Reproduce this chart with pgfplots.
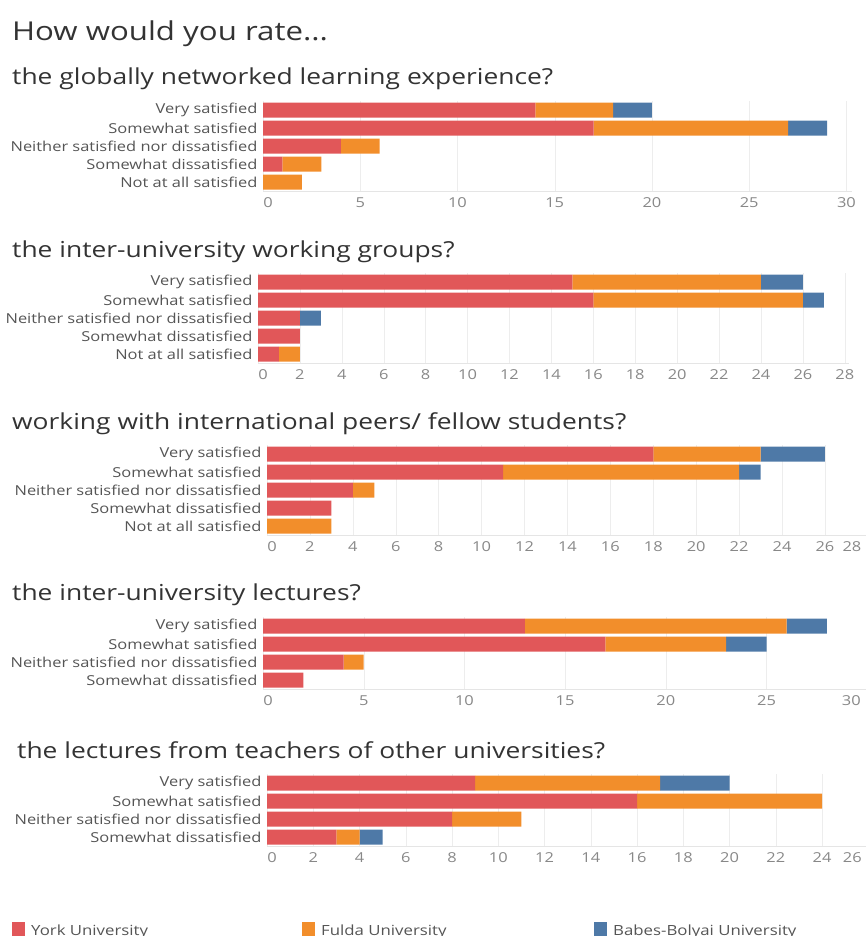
\documentclass[border=0pt]{standalone}
\usepackage{pgfplots}
\pgfplotsset{compat=1.18}
\usepackage{pgfplotstable}
\usepackage{fontspec}
\setmainfont[FakeStretch=1.2]{Open Sans}
\definecolor{york}{HTML}{E15759}
\definecolor{fulda}{HTML}{F28E2B}
\definecolor{bb}{HTML}{4E79A7}
\definecolor{titlec}{HTML}{333333}
\definecolor{labc}{HTML}{555555}
\definecolor{tickc}{HTML}{888888}

\pgfplotstableread{
y york fulda bb
0 14 4 2
1 17 10 2
2 4 2 0
3 1 2 0
4 0 2 0
}\tableA
\pgfplotstableread{
y york fulda bb
0 15 9 2
1 16 10 1
2 2 0 1
3 2 0 0
4 1 1 0
}\tableB
\pgfplotstableread{
y york fulda bb
0 18 5 3
1 11 11 1
2 4 1 0
3 3 0 0
4 0 3 0
}\tableC
\pgfplotstableread{
y york fulda bb
0 13 13 2
1 17 6 2
2 4 1 0
3 2 0 0
}\tableD
\pgfplotstableread{
y york fulda bb
0 9 8 3
1 16 8 0
2 8 3 0
3 3 1 1
}\tableE

\pgfplotsset{
  rate/.style={
    scale only axis,
    anchor=south west,
    xbar stacked,
    bar width=15pt,
    y dir=reverse,
    xmin=0,
    ymin=-0.5,
    axis x line*=bottom,
    axis y line*=left,
    x axis line style={draw=black!10},
    y axis line style={draw=none},
    major tick length=0pt,
    tick style={draw=none},
    xmajorgrids,
    grid style={draw=black!7},
    /pgf/number format/assume math mode=true,
    tick label style={font=\fontsize{13.7}{16}\selectfont},
    xticklabel style={color=tickc, yshift=-3pt},
    yticklabel style={color=labc, xshift=-2pt},
    ytick={0,...,4},
    clip=false,
  },
}

\begin{document}
\begin{tikzpicture}
\useasboundingbox (0,0) rectangle (866pt,-936pt);

\node[anchor=base west, inner sep=0, text=titlec, font=\fontsize{26}{30}\selectfont] at (12pt,-41pt) {How would you rate...};

% chart 1
\node[anchor=base west, inner sep=0, text=titlec, font=\fontsize{22}{26}\selectfont] at (12pt,-85pt) {the globally networked learning experience?};
\begin{axis}[rate, at={(263pt,-191pt)}, width=589.3pt, height=90pt, xmax=30.3, ymax=4.5,
  xtick={0,5,...,30},
  xticklabels={\hspace*{10pt}0,5,10,15,20,25,30},
  yticklabels={Very satisfied,Somewhat satisfied,Neither satisfied nor dissatisfied,Somewhat dissatisfied,Not at all satisfied}]
\addplot[fill=york, draw=none] table[x=york,y=y]{\tableA};
\addplot[fill=fulda, draw=none] table[x=fulda,y=y]{\tableA};
\addplot[fill=bb, draw=none] table[x=bb,y=y]{\tableA};
\end{axis}

% chart 2
\node[anchor=base west, inner sep=0, text=titlec, font=\fontsize{22}{26}\selectfont] at (12pt,-257pt) {the inter-university working groups?};
\begin{axis}[rate, at={(258pt,-363pt)}, width=591pt, height=90pt, xmax=28.2, ymax=4.5,
  xtick={0,2,...,28},
  xticklabels={\hspace*{10pt}0,2,4,6,8,10,12,14,16,18,20,22,24,26,28},
  yticklabels={Very satisfied,Somewhat satisfied,Neither satisfied nor dissatisfied,Somewhat dissatisfied,Not at all satisfied}]
\addplot[fill=york, draw=none] table[x=york,y=y]{\tableB};
\addplot[fill=fulda, draw=none] table[x=fulda,y=y]{\tableB};
\addplot[fill=bb, draw=none] table[x=bb,y=y]{\tableB};
\end{axis}

% chart 3
\node[anchor=base west, inner sep=0, text=titlec, font=\fontsize{22}{26}\selectfont] at (12pt,-429pt) {working with international peers/ fellow students?};
\begin{axis}[rate, at={(267pt,-535pt)}, width=600.9pt, height=90pt, xmax=28, ymax=4.5,
  xtick={0,2,...,26},
  xticklabels={\hspace*{10pt}0,2,4,6,8,10,12,14,16,18,20,22,24,26},
  extra x ticks={28},
  extra x tick style={xticklabel style={anchor=north east, xshift=-3pt}},
  yticklabels={Very satisfied,Somewhat satisfied,Neither satisfied nor dissatisfied,Somewhat dissatisfied,Not at all satisfied}]
\addplot[fill=york, draw=none] table[x=york,y=y]{\tableC};
\addplot[fill=fulda, draw=none] table[x=fulda,y=y]{\tableC};
\addplot[fill=bb, draw=none] table[x=bb,y=y]{\tableC};
\end{axis}

% chart 4
\node[anchor=base west, inner sep=0, text=titlec, font=\fontsize{22}{26}\selectfont] at (12pt,-600pt) {the inter-university lectures?};
\begin{axis}[rate, at={(263pt,-689pt)}, width=604.2pt, height=72pt, xmax=30, ymax=3.5,
  ytick={0,...,3},
  xtick={0,5,...,25},
  xticklabels={\hspace*{10pt}0,5,10,15,20,25},
  extra x ticks={30},
  extra x tick style={xticklabel style={anchor=north east, xshift=-3pt}},
  yticklabels={Very satisfied,Somewhat satisfied,Neither satisfied nor dissatisfied,Somewhat dissatisfied}]
\addplot[fill=york, draw=none] table[x=york,y=y]{\tableD};
\addplot[fill=fulda, draw=none] table[x=fulda,y=y]{\tableD};
\addplot[fill=bb, draw=none] table[x=bb,y=y]{\tableD};
\end{axis}

% chart 5
\node[anchor=base west, inner sep=0, text=titlec, font=\fontsize{22}{26}\selectfont] at (17pt,-758pt) {the lectures from teachers of other universities?};
\begin{axis}[rate, at={(267pt,-846pt)}, width=601.3pt, height=72pt, xmax=26, ymax=3.5,
  ytick={0,...,3},
  xtick={0,2,...,24},
  xticklabels={\hspace*{10pt}0,2,4,6,8,10,12,14,16,18,20,22,24},
  extra x ticks={26},
  extra x tick style={xticklabel style={anchor=north east, xshift=-3pt}},
  yticklabels={Very satisfied,Somewhat satisfied,Neither satisfied nor dissatisfied,Somewhat dissatisfied}]
\addplot[fill=york, draw=none] table[x=york,y=y]{\tableE};
\addplot[fill=fulda, draw=none] table[x=fulda,y=y]{\tableE};
\addplot[fill=bb, draw=none] table[x=bb,y=y]{\tableE};
\end{axis}

% legend
\fill[york] (12pt,-922pt) rectangle (25pt,-940pt);
\node[anchor=base west, inner sep=0, text=labc, font=\fontsize{14}{16}\selectfont] at (31pt,-935pt) {York University};
\fill[fulda] (302pt,-922pt) rectangle (315pt,-940pt);
\node[anchor=base west, inner sep=0, text=labc, font=\fontsize{14}{16}\selectfont] at (321pt,-935pt) {Fulda University};
\fill[bb] (594pt,-922pt) rectangle (607pt,-940pt);
\node[anchor=base west, inner sep=0, text=labc, font=\fontsize{14}{16}\selectfont] at (613pt,-935pt) {Babes-Bolyai University};
\end{tikzpicture}
\end{document}
